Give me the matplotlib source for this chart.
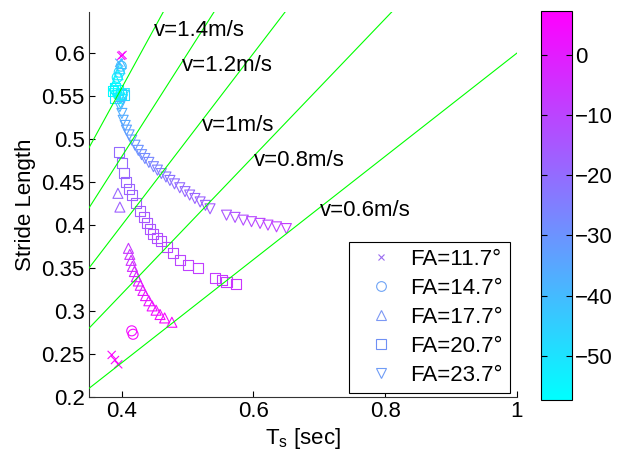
import numpy as np
import matplotlib
matplotlib.use("Agg")
import matplotlib.pyplot as plt
from matplotlib.colors import Normalize
from matplotlib.cm import ScalarMappable
from matplotlib.lines import Line2D

plt.rcParams['font.family'] = ['Liberation Sans', 'DejaVu Sans']
plt.rcParams['font.size'] = 16

# ------------------------------------------------------------
# Data: step time T_s, stride length, colour value per point
# ------------------------------------------------------------
fa117_T = [0.396, 0.399, 0.401, 0.3845, 0.3895, 0.3945]
fa117_L = [0.589, 0.597, 0.598, 0.249, 0.243, 0.238]
fa117_C = [-36, 5, 6, 6, 6, 6]

fa147_T = [0.393, 0.396, 0.399, 0.415, 0.417]
fa147_L = [0.572, 0.578, 0.585, 0.277, 0.273]
fa147_C = [-54, -49, -42, 4, 5]

fa177_T = [0.388, 0.391, 0.394, 0.397, 0.399, 0.394, 0.397,
           0.410, 0.412, 0.414, 0.416, 0.419, 0.422, 0.425, 0.428,
           0.432, 0.436, 0.441, 0.446, 0.452, 0.458, 0.465, 0.476]
fa177_L = [0.562, 0.568, 0.575, 0.582, 0.588, 0.437, 0.421,
           0.373, 0.366, 0.359, 0.352, 0.346, 0.340, 0.335, 0.330,
           0.324, 0.318, 0.312, 0.306, 0.301, 0.296, 0.292, 0.287]
fa177_C = [-57, -55, -52, -47, -40, -19, -17,
           -7, -6, -5, -4, -3, -2, -1, 0,
           1, 1.5, 2, 3, 3.5, 4, 5, 6]

fa207_T = [0.386, 0.390, 0.394, 0.398, 0.403, 0.390,
           0.396, 0.400, 0.403, 0.407, 0.411, 0.415, 0.421, 0.4275,
           0.433, 0.438, 0.443, 0.448, 0.454, 0.460, 0.469, 0.478,
           0.488, 0.501, 0.516, 0.5415, 0.5517, 0.559, 0.573]
fa207_L = [0.556, 0.560, 0.557, 0.553, 0.551, 0.548,
           0.485, 0.472, 0.461, 0.450, 0.442, 0.435, 0.426, 0.417,
           0.409, 0.402, 0.396, 0.390, 0.385, 0.381, 0.374, 0.367,
           0.359, 0.3535, 0.3497, 0.338, 0.336, 0.334, 0.331]
fa207_C = [-57, -55, -53, -50, -46, -52,
           -20, -19.5, -19, -18.5, -18, -17, -16.5, -16,
           -15, -14.5, -14, -13, -12.5, -12, -11, -10.5,
           -10, -9, -8.5, -7.5, -7, -6.5, -6]

fa237_T = [0.389, 0.393, 0.397, 0.401, 0.404, 0.398,
           0.397, 0.400, 0.402, 0.405, 0.407, 0.411, 0.415, 0.420,
           0.425, 0.430, 0.435, 0.441, 0.448, 0.454, 0.460, 0.467,
           0.473, 0.480, 0.488, 0.496, 0.503, 0.511, 0.519, 0.527,
           0.534, 0.559, 0.572, 0.5845, 0.597, 0.610, 0.622, 0.635, 0.650]
fa237_L = [0.553, 0.551, 0.548, 0.546, 0.553, 0.542,
           0.538, 0.530, 0.522, 0.516, 0.5105, 0.505, 0.499, 0.493,
           0.487, 0.482, 0.4775, 0.473, 0.468, 0.464, 0.460, 0.456,
           0.452, 0.448, 0.4435, 0.439, 0.435, 0.431, 0.427, 0.423,
           0.419, 0.4116, 0.409, 0.4058, 0.404, 0.402, 0.400, 0.398, 0.396]
fa237_C = [-57, -56, -54, -51, -49, -45,
           -38, -37, -36, -35, -34, -33, -32, -31,
           -30, -29, -28, -27, -26, -25, -24, -23,
           -22, -21, -20, -19.5, -19, -18, -17.5, -17,
           -16, -14, -13, -12, -11, -10, -9.5, -9, -8]

series_labels = ['FA=11.7°', 'FA=14.7°', 'FA=17.7°', 'FA=20.7°', 'FA=23.7°']
series_markers = ['x', 'o', '^', 's', 'v']
legend_colors = ['#9a6cf0', '#6fa4f6', '#7c98f4', '#6f90f4', '#6f9cf6']

speeds = [0.6, 0.8, 1.0, 1.2, 1.4]
speed_labels = ['v=0.6m/s', 'v=0.8m/s', 'v=1m/s', 'v=1.2m/s', 'v=1.4m/s']
speed_label_pos = [(0.701, 0.4174), (0.600, 0.4756), (0.521, 0.516),
                   (0.491, 0.586), (0.4487, 0.627)]

cmin, cmax = -57.3, 7.2

# ------------------------------------------------------------
# Figure
# ------------------------------------------------------------
fig = plt.figure(figsize=(6.2, 4.57), dpi=100)
ax = fig.add_axes([0.1435, 0.1313, 0.6899, 0.8424])
cax = fig.add_axes([0.8726, 0.1247, 0.050, 0.851])

cmap = plt.get_cmap('cool')
norm = Normalize(vmin=cmin, vmax=cmax)

all_T = [fa117_T, fa147_T, fa177_T, fa207_T, fa237_T]
all_L = [fa117_L, fa147_L, fa177_L, fa207_L, fa237_L]
all_C = [fa117_C, fa147_C, fa177_C, fa207_C, fa237_C]

for T, L, C, m in zip(all_T, all_L, all_C, series_markers):
    cols = cmap(norm(np.array(C)))
    if m == 'x':
        ax.scatter(T, L, marker=m, c=cols, s=34, linewidths=0.8, zorder=2)
    else:
        ax.scatter(T, L, marker=m, facecolors='none', edgecolors=cols,
                   s=52, linewidths=0.8, zorder=2)

# constant-speed lines L = v * T
tt = np.array([0.0, 1.2])
for v in speeds:
    ax.plot(tt, v * tt, color=(0, 1, 0), lw=0.8, zorder=3)

for lab, (x, y) in zip(speed_labels, speed_label_pos):
    ax.text(x, y, lab, ha='left', va='center', fontsize=16, zorder=4)

ax.set_xlim(0.35, 1.0)
ax.set_ylim(0.2, 0.648)

xticks = [0.4, 0.6, 0.8, 1.0]
xticklabels = ['0.4', '0.6', '0.8', '1']
yticks = [0.2, 0.25, 0.3, 0.35, 0.4, 0.45, 0.5, 0.55, 0.6]
yticklabels = ['0.2', '0.25', '0.3', '0.35', '0.4', '0.45', '0.5', '0.55', '0.6']
ax.set_xticks(xticks)
ax.set_xticklabels(xticklabels)
ax.set_yticks(yticks)
ax.set_yticklabels(yticklabels)
ax.tick_params(direction='in', length=4, width=0.8, labelsize=16, pad=3)

for side in ['top', 'right']:
    ax.spines[side].set_visible(False)
for side in ['left', 'bottom']:
    ax.spines[side].set_linewidth(0.8)
    ax.spines[side].set_color('#333333')

ax.set_xlabel(r'T$_\mathregular{s}$ [sec]', fontsize=16, labelpad=3)
ax.set_ylabel('Stride Length', fontsize=16, labelpad=4)

handles = [Line2D([], [], marker=m, linestyle='none', markerfacecolor='none',
                  markeredgecolor=c, color=c,
                  markersize=(4 if m == 'x' else 7), markeredgewidth=0.8)
           for m, c in zip(series_markers, legend_colors)]
leg = ax.legend(handles, series_labels, loc='lower right',
                bbox_to_anchor=(0.984, 0.011), borderaxespad=0,
                fancybox=False, framealpha=1, edgecolor='k',
                fontsize=16, handlelength=2.25, handletextpad=0.2,
                borderpad=0.3, labelspacing=0.36)
leg.get_frame().set_linewidth(0.8)

# colour bar
sm = ScalarMappable(norm=norm, cmap=cmap)
cbar = fig.colorbar(sm, cax=cax)
cbar_ticks = [0, -10, -20, -30, -40, -50]
cbar.set_ticks(cbar_ticks)
cbar.ax.tick_params(direction='in', left=True, right=True, length=4,
                    width=0.8, labelsize=16, pad=2)
cbar.outline.set_linewidth(0.8)

fig.savefig('out.png', dpi=100)
